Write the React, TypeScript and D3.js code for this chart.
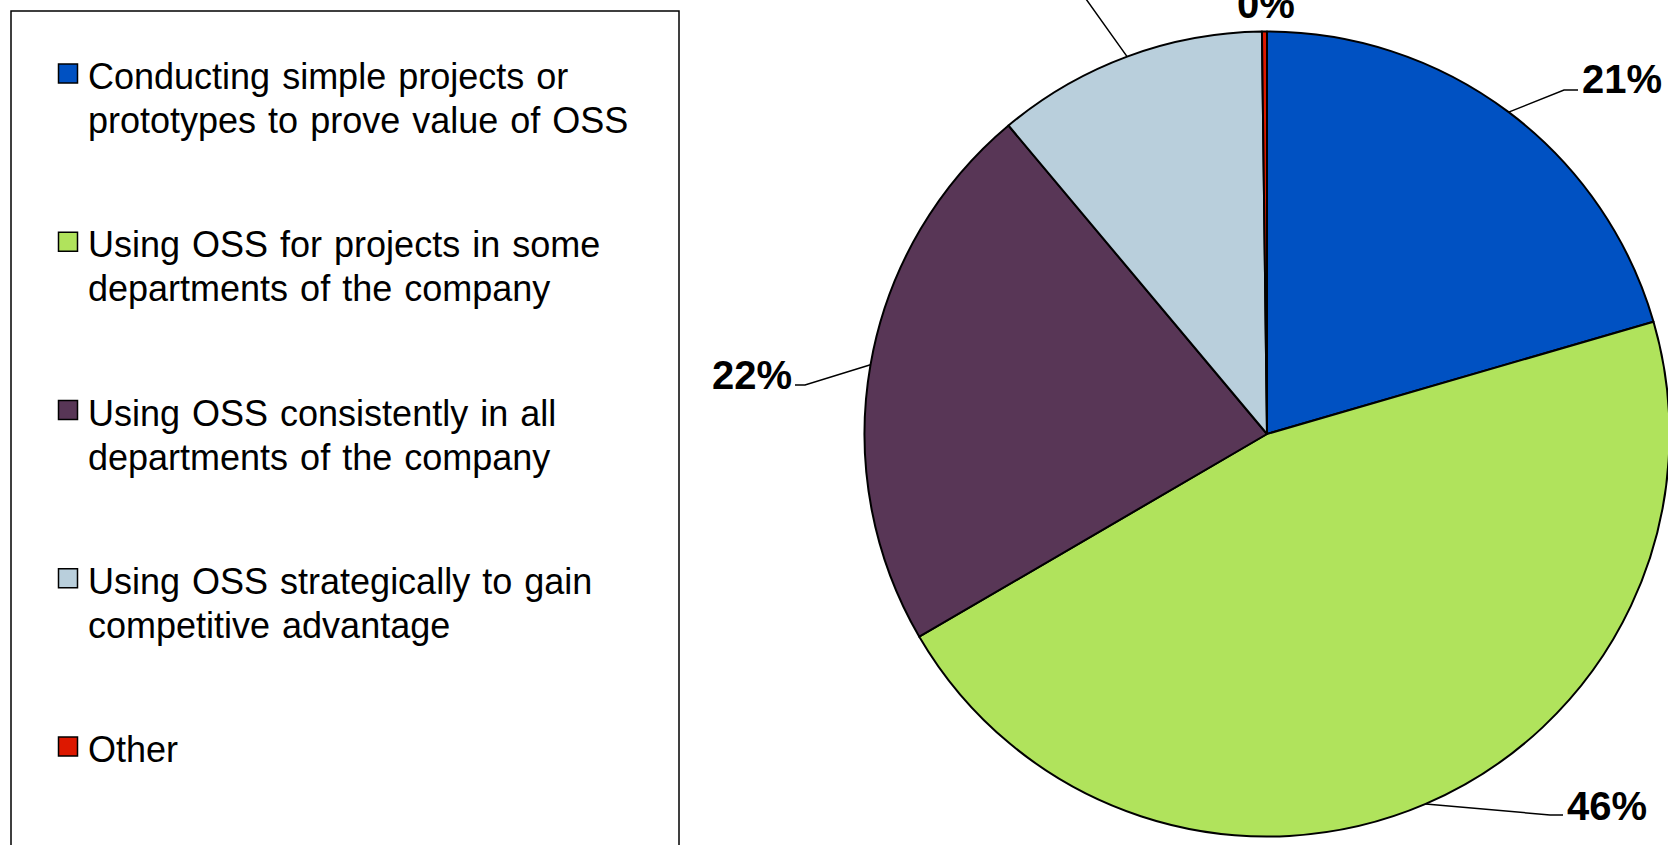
import React from 'react';
import * as d3 from 'd3';

const categories = [
  "Conducting simple projects or\nprototypes to prove value of OSS",
  "Using OSS for projects in some\ndepartments of the company",
  "Using OSS consistently in all\ndepartments of the company",
  "Using OSS strategically to gain\ncompetitive advantage",
  "Other",
];
const values = [20.5, 46.1, 22.3, 10.9, 0.2];
const colors = ["#0051C2", "#B0E35C", "#583656", "#B9CFDC", "#DD1800"];

const W = 1668;
const H = 845;
const cx = 1267;
const cy = 434;
const R = 402.5;

// layout of the data labels (positions only)
const labelLayout = [
  { elbow: [1564, 90], end: [1578, 90], text: [1582, 93], anchor: 'start' },
  { elbow: [1550, 815], end: [1563, 815], text: [1567, 820], anchor: 'start' },
  { elbow: [805, 385], end: [795, 385], text: [792, 389], anchor: 'end' },
  { elbow: [1071, -22], end: [1060, -22], text: [1057, -18], anchor: 'end' },
  { elbow: null, end: null, text: [1266, 18], anchor: 'middle' },
];

const FONT = "'Liberation Sans', Arial, Helvetica, sans-serif";

export default function App() {
  const total = d3.sum(values);
  const pie = d3.pie<number>().sort(null).value((d) => d);
  const arcs = pie(values);
  const arc = d3.arc<d3.PieArcDatum<number>>().innerRadius(0).outerRadius(R);

  const legendX = 58;
  const legendTextX = 88;
  const legendBase = 89;
  const legendStep = 168.25;
  const lineH = 44;

  return (
    <svg
      width={W}
      height={H}
      style={{ position: 'absolute', left: 0, top: 0, background: '#fff' }}
      fontFamily={FONT}
    >
      <rect x={0} y={0} width={W} height={H} fill="#fff" />
      {/* Legend */}
      <rect x={11} y={11} width={668} height={900} fill="#fff" stroke="#000" strokeWidth={1.5} />
      {categories.map((c, i) => {
        const y0 = legendBase + i * legendStep;
        const lines = c.split('\n');
        return (
          <g key={i}>
            <rect
              x={legendX + 0.5}
              y={y0 - 25}
              width={19}
              height={19}
              fill={colors[i]}
              stroke="#000"
              strokeWidth={1.5}
            />
            {lines.map((l, j) => (
              <text
                key={j}
                x={legendTextX}
                y={y0 + j * lineH}
                fontSize={36}
                fill="#000"
                style={{ wordSpacing: '2px' }}
              >
                {l}
              </text>
            ))}
          </g>
        );
      })}

      {/* Pie */}
      <g transform={`translate(${cx},${cy})`}>
        {arcs.map((a, i) => (
          <path key={i} d={arc(a) || ''} fill={colors[i]} stroke="#000" strokeWidth={2} strokeLinejoin="round" />
        ))}
      </g>

      {/* Leader lines and labels */}
      {arcs.map((a, i) => {
        const mid = (a.startAngle + a.endAngle) / 2;
        const sx = cx + R * Math.sin(mid);
        const sy = cy - R * Math.cos(mid);
        const lay = labelLayout[i];
        const pct = Math.round((values[i] / total) * 100 + 1e-9) + '%';
        return (
          <g key={i}>
            {lay.elbow && (
              <polyline
                points={`${sx},${sy} ${lay.elbow[0]},${lay.elbow[1]} ${lay.end![0]},${lay.end![1]}`}
                fill="none"
                stroke="#000"
                strokeWidth={1.5}
              />
            )}
            <text
              x={lay.text[0]}
              y={lay.text[1]}
              textAnchor={lay.anchor as any}
              fontSize={40}
              fontWeight="bold"
              fill="#000"
            >
              {pct}
            </text>
          </g>
        );
      })}
    </svg>
  );
}
